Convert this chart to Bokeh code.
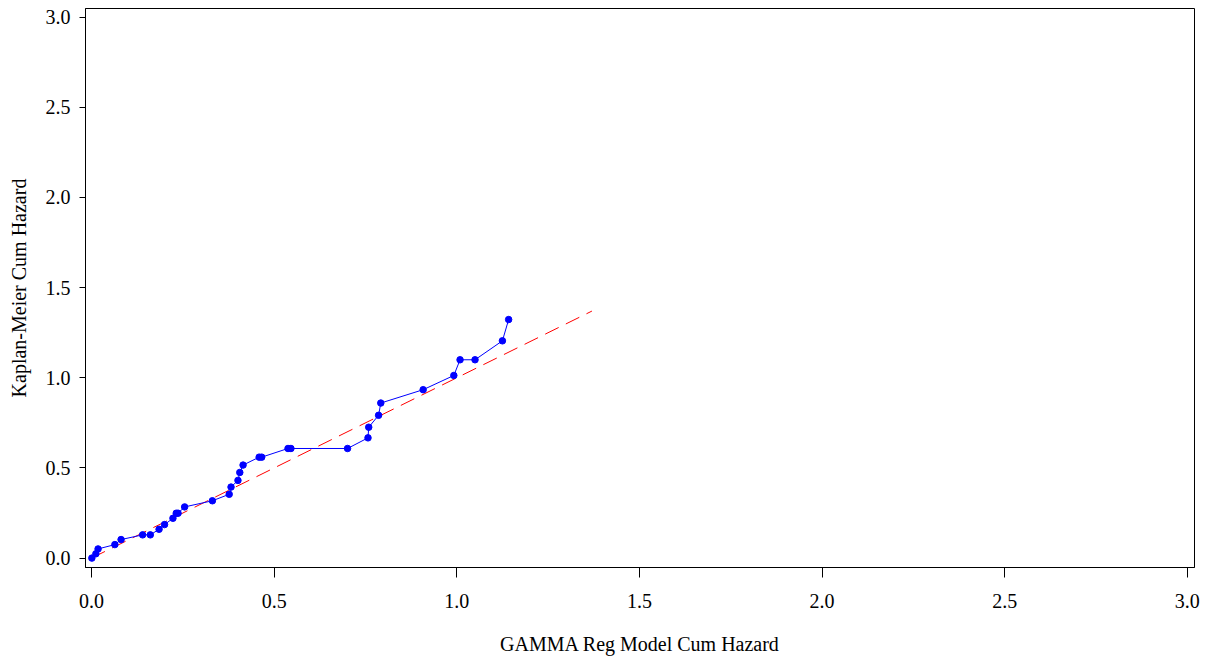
from bokeh.plotting import figure
from bokeh.models import FixedTicker, PrintfTickFormatter, Range1d
from bokeh.embed import file_html
from bokeh.resources import INLINE

# Data
gamma_cumhaz = [0.001, 0.012, 0.018, 0.064, 0.081, 0.140, 0.161, 0.185, 0.200,
                0.223, 0.232, 0.237, 0.255, 0.331, 0.377, 0.382, 0.401, 0.406,
                0.415, 0.459, 0.466, 0.538, 0.546, 0.701, 0.757, 0.759, 0.786,
                0.792, 0.908, 0.992, 1.009, 1.050, 1.125, 1.142]
km_cumhaz = [0.000, 0.024, 0.051, 0.075, 0.103, 0.129, 0.129, 0.160, 0.186,
             0.221, 0.249, 0.249, 0.284, 0.318, 0.354, 0.394, 0.431, 0.475,
             0.516, 0.560, 0.560, 0.608, 0.608, 0.608, 0.667, 0.726, 0.792,
             0.860, 0.934, 1.013, 1.100, 1.100, 1.205, 1.323]
ref_x = [0.0, 1.37]
ref_y = [0.0, 1.37]
tick_values = [0.0, 0.5, 1.0, 1.5, 2.0, 2.5, 3.0]

FONT = "Liberation Serif"

p = figure(width=1200, height=657, output_backend="svg", toolbar_location=None,
           x_range=Range1d(-0.0164, 3.0197), y_range=Range1d(-0.052, 3.048),
           min_border_left=85, min_border_right=6, min_border_top=8,
           min_border_bottom=89)

p.line(ref_x, ref_y, line_color="#FF0000", line_width=1, line_dash="15 8")
p.line(gamma_cumhaz, km_cumhaz, line_color="#0000FF", line_width=1)
p.scatter(gamma_cumhaz, km_cumhaz, size=6.5, fill_color="#0000FF",
          line_color="#0000FF")

p.grid.visible = False
p.outline_line_color = "black"
p.outline_line_width = 1
p.outline_line_alpha = 1.0

for ax in (p.xaxis[0], p.yaxis[0]):
    ax.ticker = FixedTicker(ticks=tick_values)
    ax.formatter = PrintfTickFormatter(format="%.1f")
    ax.minor_tick_line_color = None
    ax.major_tick_in = 0
    ax.axis_line_color = "black"
    ax.major_tick_line_color = "black"
    ax.major_label_text_font = FONT
    ax.major_label_text_font_size = "20px"
    ax.major_label_text_color = "black"
    ax.axis_label_text_font = FONT
    ax.axis_label_text_font_size = "20px"
    ax.axis_label_text_font_style = "normal"
    ax.axis_label_text_color = "black"

p.xaxis.axis_label = "GAMMA Reg Model Cum Hazard"
p.yaxis.axis_label = "Kaplan-Meier Cum Hazard"
p.xaxis.major_tick_out = 10
p.yaxis.major_tick_out = 6
p.xaxis.major_label_standoff = 16
p.yaxis.major_label_standoff = 9
p.xaxis.axis_label_standoff = 22
p.yaxis.axis_label_standoff = 13

open("out.html", "w").write(file_html(p, INLINE))
